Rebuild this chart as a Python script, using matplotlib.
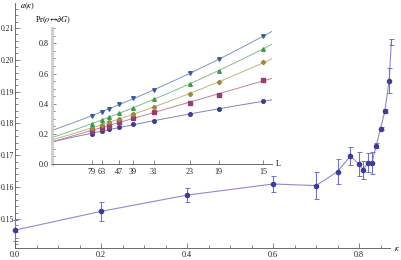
import numpy as np
import matplotlib
matplotlib.use("Agg")
import matplotlib.pyplot as plt
from matplotlib.ticker import MultipleLocator, FixedLocator

plt.rcParams['font.family'] = ['Liberation Serif', 'DejaVu Serif']
plt.rcParams['mathtext.fontset'] = 'stix'

# main curve
kappa = [0.0, 0.2, 0.4, 0.6, 0.7, 0.75, 0.78, 0.80, 0.81, 0.82, 0.83, 0.84, 0.85, 0.86, 0.87, 0.875]
a_val = [0.1465, 0.1524, 0.1575, 0.1610, 0.1605, 0.1649, 0.1698, 0.1672, 0.1654, 0.1677, 0.1677,
         0.1730, 0.1784, 0.1839, 0.1935, 0.2056]
a_err = [0.0033, 0.0030, 0.0022, 0.0024, 0.0043, 0.0038, 0.0028, 0.0037, 0.0027, 0.0030, 0.0035,
         0.0008, 0.0006, 0.0006, 0.0040, 0.0009]

# inset
L_vals = [79, 63, 55, 47, 39, 31, 23, 19, 15]
L_tick_labels = [79, 63, 47, 39, 31, 23, 19, 15]
pr_series = {
    'c1': [0.201, 0.217, 0.230, 0.243, 0.263, 0.288, 0.330, 0.363, 0.418],
    'c2': [0.219, 0.241, 0.254, 0.281, 0.307, 0.344, 0.407, 0.460, 0.555],
    'c3': [0.237, 0.259, 0.279, 0.298, 0.332, 0.381, 0.466, 0.542, 0.674],
    'c4': [0.267, 0.294, 0.310, 0.336, 0.373, 0.430, 0.532, 0.619, 0.765],
    'c5': [0.320, 0.347, 0.365, 0.395, 0.435, 0.491, 0.601, 0.694, 0.849],
}
series_colors = {'c1': (0.24, 0.24, 0.6), 'c2': (0.6, 0.24, 0.442), 'c3': (0.6, 0.547, 0.24),
                 'c4': (0.24, 0.6, 0.33), 'c5': (0.24, 0.353, 0.6)}
series_markers = {'c1': 'o', 'c2': 's', 'c3': 'D', 'c4': '^', 'c5': 'v'}

W, H = 401, 260
fig = plt.figure(figsize=(W / 100, H / 100), dpi=100)

def px_axes(x0, x1, ytop, ybot):
    return fig.add_axes([x0 / W, 1 - ybot / H, (x1 - x0) / W, (ybot - ytop) / H])

axcol = '#555555'
fs = 5.9

# ---------- main axes ----------
ax = px_axes(15, 390, 3, 248)
ax.set_xlim(0, 0.872)
ax.set_ylim(0.14089, 0.21785)
for s in ['top', 'right']:
    ax.spines[s].set_visible(False)
for s in ['left', 'bottom']:
    ax.spines[s].set_color(axcol)
    ax.spines[s].set_linewidth(0.6)
ax.patch.set_alpha(0)
ax.xaxis.set_major_locator(MultipleLocator(0.2))
ax.xaxis.set_minor_locator(MultipleLocator(0.05))
ax.yaxis.set_major_locator(FixedLocator([0.15, 0.16, 0.17, 0.18, 0.19, 0.20, 0.21]))
ax.yaxis.set_minor_locator(MultipleLocator(0.002))
ax.xaxis.set_major_formatter(matplotlib.ticker.FuncFormatter(lambda v, p: f"{v:.1f}"))
ax.yaxis.set_major_formatter(matplotlib.ticker.FuncFormatter(lambda v, p: f"{v:.2f}"))
ax.tick_params(which='both', direction='in', colors=axcol, labelcolor='#222222', labelsize=fs, width=0.5)
ax.tick_params(which='major', length=3.5, pad=2)
ax.tick_params(which='minor', length=2)
ax.tick_params(axis='y', labelsize=5.5, pad=0.4)

line_col = (0.55, 0.55, 0.8)
ax.plot(kappa, a_val, color=line_col, lw=0.8, zorder=2, clip_on=False)
ax.errorbar(kappa, a_val, yerr=a_err, fmt='none', ecolor=(0.45, 0.45, 0.75), elinewidth=0.8,
            capsize=1.8, capthick=0.7, zorder=3, clip_on=False)
ax.plot(kappa[:-1], a_val[:-1], 'o', color=(0.24, 0.24, 0.6), ms=3.0, zorder=4, clip_on=False)

fig.text(20 / W, 1 - 6 / H, r'$a(\kappa)$', fontsize=fs, ha='left', va='center')
fig.text(397 / W, 1 - 249 / H, r'$\kappa$', fontsize=fs, ha='center', va='center')

# ---------- inset ----------
ix0, ix1 = 51.5, 271.7
iax = px_axes(ix0, ix1, 28, 164)
xmax = 0.0693
iax.set_xlim(0, xmax)
iax.set_ylim(0, 0.902)
iax.patch.set_alpha(0)
for s in ['top', 'right']:
    iax.spines[s].set_visible(False)
iax.spines['left'].set_color('#cccccc')
iax.spines['left'].set_linewidth(2.0)
iax.spines['bottom'].set_color(axcol)
iax.spines['bottom'].set_linewidth(0.6)
iax.yaxis.set_major_locator(FixedLocator([0.0, 0.2, 0.4, 0.6, 0.8]))
iax.yaxis.set_minor_locator(MultipleLocator(0.05))
iax.yaxis.set_major_formatter(matplotlib.ticker.FuncFormatter(lambda v, p: f"{v:.1f}"))
iax.xaxis.set_major_locator(FixedLocator([1 / l for l in L_tick_labels]))
iax.xaxis.set_major_formatter(matplotlib.ticker.FixedFormatter([str(l) for l in L_tick_labels]))
iax.tick_params(which='both', direction='in', colors=axcol, labelcolor='#222222', labelsize=fs, width=0.5)
iax.tick_params(which='major', length=3, pad=2)
iax.tick_params(which='minor', length=1.8)
iax.tick_params(axis='x', pad=3)

invL = np.array([1 / l for l in L_vals])
xx = np.linspace(0, xmax, 100)
for key, vals in pr_series.items():
    col = series_colors[key]
    light = tuple(c + (1 - c) * 0.35 for c in col)
    coef = np.polyfit(invL, vals, 2)
    iax.plot(xx, np.polyval(coef, xx), color=light, lw=0.7, zorder=2)
    iax.plot(invL, vals, series_markers[key], color=col, ms=2.6 if series_markers[key] != 'D' else 2.2,
             zorder=3, clip_on=False)

fig.text(35 / W, 1 - 20 / H, r'Pr$(o\!\leftrightarrow\!\partial G)$', fontsize=fs, ha='left', va='center')
fig.text(278 / W, 1 - 164 / H, 'L', fontsize=fs, ha='center', va='center')

fig.savefig('out.png', dpi=100)
